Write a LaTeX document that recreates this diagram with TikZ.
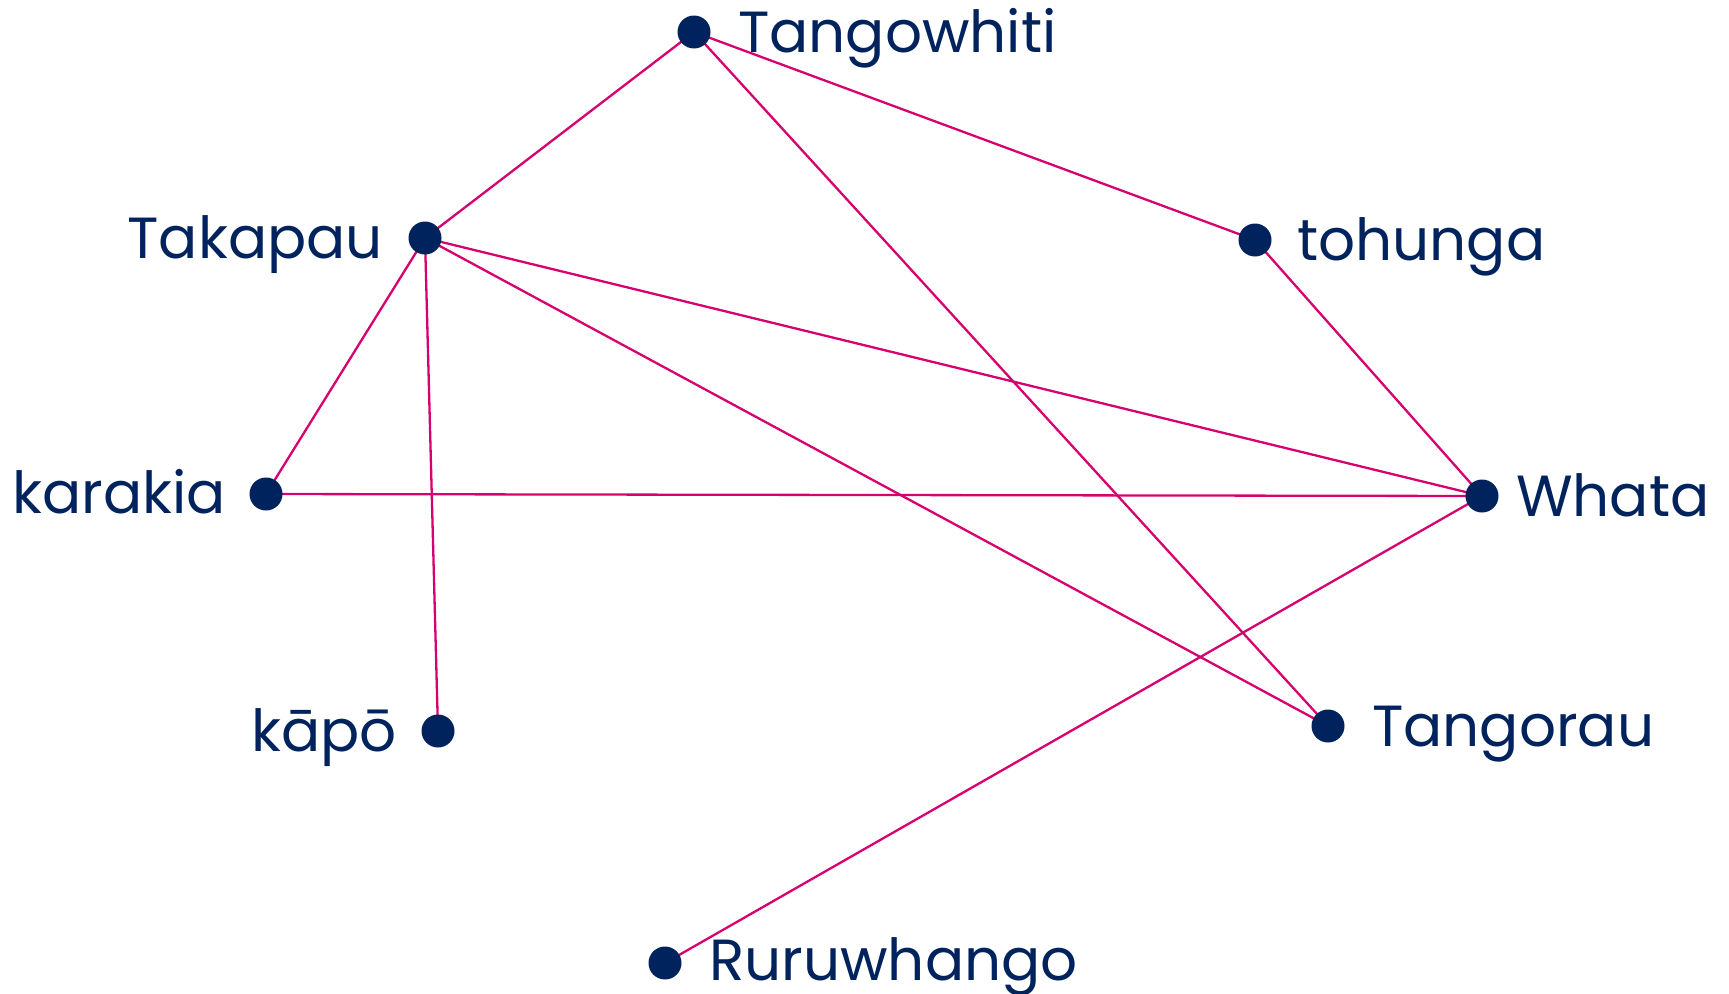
\documentclass[tikz,border=0pt]{standalone}
\usepackage{fontspec}
\setmainfont{Poppins}
\usetikzlibrary{calc}
\definecolor{navy}{RGB}{0,35,94}
\definecolor{edgec}{RGB}{214,0,110}
\tikzset{
  dot/.style={circle,fill=navy,minimum size=33pt,inner sep=0pt},
  lbl/.style={text=navy,inner sep=0pt,font=\fontsize{58}{58}\selectfont},
  edge/.style={draw=edgec,line width=2.3pt}
}
\begin{document}
\begin{tikzpicture}[x=1pt,y=-1pt]
\useasboundingbox (0,0) rectangle (1729,993);
\coordinate (tw) at (694,32);
\coordinate (tk) at (425,238);
\coordinate (th) at (1255,240);
\coordinate (kr) at (266,494);
\coordinate (wh) at (1482,496);
\coordinate (kp) at (438,731);
\coordinate (tr) at (1328,726);
\coordinate (rr) at (665,963);
\draw[edge] (tw) -- (tk);
\draw[edge] (tw) -- (th);
\draw[edge] (tw) -- (tr);
\draw[edge] (tk) -- (wh);
\draw[edge] (tk) -- (kr);
\draw[edge] (tk) -- (kp);
\draw[edge] (tk) -- (tr);
\draw[edge] (th) -- (wh);
\draw[edge] (kr) -- (wh);
\draw[edge] (wh) -- (rr);
\node[dot] (ntw) at (tw) {};
\node[dot] (ntk) at (tk) {};
\node[dot] (nth) at (th) {};
\node[dot] (nkr) at (kr) {};
\node[dot] (nwh) at (wh) {};
\node[dot] (nkp) at (kp) {};
\node[dot] (ntr) at (tr) {};
\node[dot] (nrr) at (rr) {};
\node[lbl,anchor=base west] (ltw) at ($(tw)+(44,20)$) {Tangowhiti};
\node[lbl,anchor=base east] (ltk) at ($(tk)+(-42,20)$) {Takapau};
\node[lbl,anchor=base west] (lth) at ($(th)+(42,20)$) {tohunga};
\node[lbl,anchor=base east] (lkr) at ($(kr)+(-40,19)$) {karakia};
\node[lbl,anchor=base west] (lwh) at ($(wh)+(34,20)$) {Whata};
\node[lbl,anchor=base east] (lkp) at ($(kp)+(-41,20)$) {kāpō};
\node[lbl,anchor=base west] (ltr) at ($(tr)+(44,20)$) {Tangorau};
\node[lbl,anchor=base west] (lrr) at ($(rr)+(44,17)$) {Ruruwhango};
\end{tikzpicture}
\end{document}
